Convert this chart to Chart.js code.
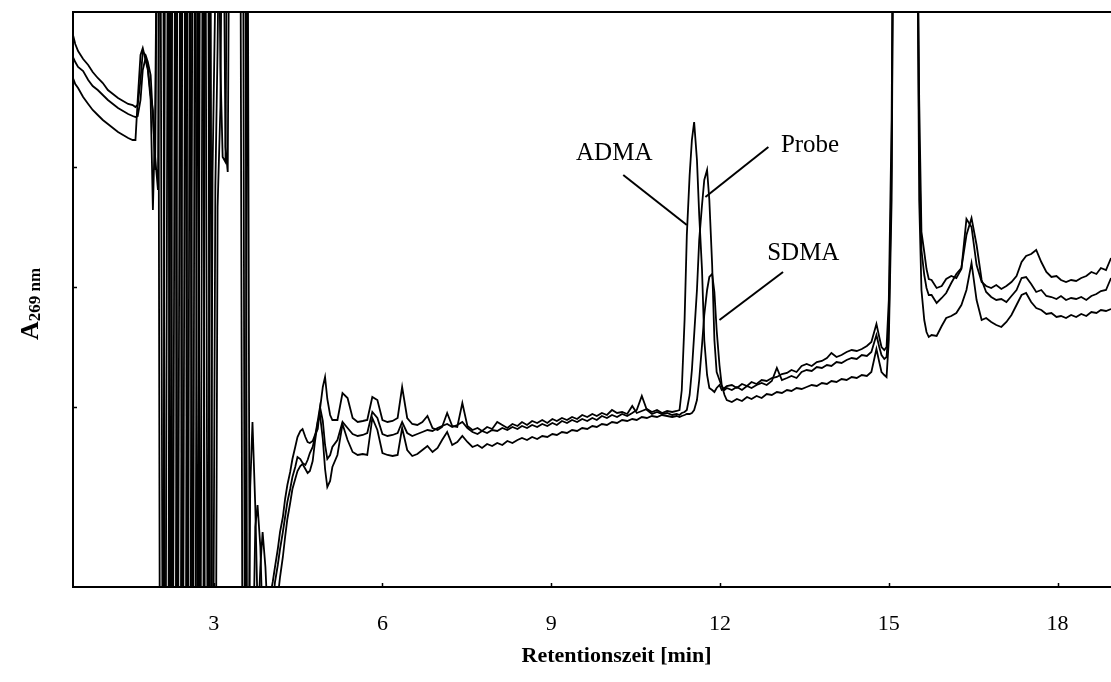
<!DOCTYPE html>
<html><head><meta charset="utf-8">
<script src="https://cdn.jsdelivr.net/npm/chart.js@4.4.1/dist/chart.umd.min.js"></script>
<style>html,body{margin:0;padding:0;background:#fff;overflow:hidden}#wrap{width:1111px;height:682px;overflow:hidden}</style>
</head><body><div id="wrap"><canvas id="c" width="1160" height="682"></canvas></div>
<script>
// Retention time [min]
const timeMin = [
 0.50,0.54,0.59,0.68,0.77,0.85,0.94,1.03,1.12,1.21,1.30,1.39,1.48,1.56,
 1.61,1.65,1.70,1.74,1.79,1.83,1.88,1.92,1.96,
 2.01,2.05,2.10,2.14,2.19,2.23,2.27,2.32,2.36,2.41,2.45,2.50,2.54,2.58,2.63,2.67,2.72,2.76,2.81,2.85,2.90,2.94,2.98,3.03,3.07,3.12,3.16,3.21,3.25,3.29,3.34,3.38,3.43,3.47,3.52,3.56,3.60,3.65,
 3.69,3.74,3.78,3.83,3.87,3.92,3.96,4.00,4.05,4.09,4.14,4.18,4.23,4.27,4.31,4.36,4.40,4.45,4.49,4.54,4.58,4.63,4.67,4.71,4.76,4.80,4.85,4.89,4.94,4.98,5.02,5.07,5.11,
 5.20,5.29,5.38,5.47,5.56,5.65,5.73,5.82,5.91,6.00,6.09,6.18,6.27,6.35,6.44,6.53,6.62,6.71,6.80,6.89,6.98,7.06,7.15,7.24,7.33,7.42,7.51,7.60,7.69,7.77,7.86,7.95,8.04,8.13,8.22,8.31,8.40,8.48,8.57,8.66,8.75,8.84,8.93,9.02,9.10,9.19,9.28,9.37,9.46,9.55,9.64,9.73,9.81,9.90,9.99,10.08,10.17,10.26,10.35,10.44,10.52,10.61,10.70,10.79,10.88,10.97,11.06,11.15,11.23,
 11.28,11.32,11.37,11.41,11.46,11.50,11.54,11.59,11.63,11.68,11.72,11.77,11.81,11.86,11.90,11.94,11.99,12.03,12.08,
 12.12,12.21,12.30,12.39,12.48,12.56,12.65,12.74,12.83,12.92,13.01,13.10,13.19,13.27,13.36,13.45,13.54,13.63,13.72,13.81,13.90,13.98,14.07,14.16,14.25,14.34,14.43,14.52,14.61,14.69,14.78,14.83,14.87,14.92,14.96,
 15.00,15.05,15.09,15.14,15.18,15.23,15.27,15.31,15.36,15.40,15.45,15.49,15.54,15.58,15.63,15.67,15.71,
 15.76,15.85,15.94,16.02,16.11,16.20,16.29,16.38,16.47,16.56,16.65,16.73,16.82,16.91,17.00,17.09,17.18,17.27,17.36,17.44,17.53,17.62,17.71,17.80,17.89,17.98,18.06,18.15,18.24,18.33,18.42,18.51,18.60,18.69,18.77,18.86,18.95
];
// Absorbance at 269 nm (arbitrary units)
const absADMA = [
 552,543,536,528,522,515,509,504,497,493,489,486,483,482,
 480,482,507,535,532,525,512,470,430,
 397,800,800,-250,-250,800,-250,-250,800,800,-250,800,-250,-250,800,800,-250,800,800,-250,-250,-250,414,600,800,520,430,425,800,800,800,800,800,800,800,-250,-250,100,
 165,80,-20,-60,-80,-60,-30,-10,5,20,38,55,70,88,102,115,128,140,150,156,158,150,145,144,146,152,158,178,200,210,188,172,167,
 167,194,189,169,165,166,167,190,187,167,165,166,169,200,169,163,162,165,171,159,157,160,174,161,160,184,161,157,159,156,160,158,165,162,159,163,161,165,162,166,164,167,164,168,166,169,167,170,168,172,170,173,171,174,172,177,174,175,173,181,174,176,178,175,177,174,176,175,176,
 177,197,267,352,412,447,465,427,372,317,247,212,199,197,195,199,202,197,199,
 201,202,199,203,201,205,203,207,206,209,210,213,214,217,215,221,223,221,225,226,229,234,230,232,235,237,236,238,241,245,263,250,240,237,240,
 287,467,800,800,800,800,800,800,800,800,800,800,487,355,335,318,308,
 307,299,301,308,311,309,318,368,360,322,305,301,299,302,298,301,305,311,325,331,333,337,325,315,310,311,307,305,307,306,309,311,315,313,319,317,329
];
const absProbe = [
 530,525,520,516,507,501,497,492,487,483,479,476,473,471,
 470,471,487,517,529,519,492,477,417,
 800,800,-250,-250,800,800,-250,800,-250,-250,800,800,-250,800,-250,-250,800,-250,-250,800,800,-250,-250,400,540,800,800,440,415,800,800,800,800,800,800,800,-250,-250,
 -100,60,82,40,-40,-70,-60,-40,-20,5,22,38,55,70,85,98,110,120,130,128,124,122,127,134,140,150,166,180,166,142,128,132,140,
 147,165,159,153,151,152,154,175,169,153,151,152,154,165,154,151,153,155,157,156,159,161,163,160,162,165,159,155,153,156,154,157,156,159,157,160,158,161,159,162,160,163,161,164,162,166,164,167,165,168,166,169,167,171,169,172,170,173,171,174,177,191,177,173,175,173,174,172,173,
 172,174,175,177,192,217,252,297,347,382,407,417,387,322,247,215,207,201,197,
 199,197,200,197,201,199,202,204,202,206,219,207,209,211,209,215,217,216,220,219,222,221,225,224,227,229,228,232,231,235,252,240,232,228,230,
 262,420,800,800,800,800,800,800,800,800,800,800,437,337,312,299,292,
 292,284,289,294,304,313,319,352,369,342,307,295,290,287,288,285,291,297,309,310,303,295,297,291,290,288,291,287,289,288,290,287,291,293,296,297,309
];
const absSDMA = [
 509,503,499,490,483,477,472,467,463,459,455,452,449,447,
 447,487,532,539,527,517,487,377,467,
 800,-250,-250,800,800,-250,800,800,-250,800,-250,-250,800,800,-250,800,800,-250,800,800,-250,800,-250,-250,380,480,800,800,800,800,800,800,800,800,-250,-250,800,-250,
 -250,-150,-50,20,55,20,-30,-60,-50,-30,-10,10,30,50,68,84,98,108,116,121,123,118,114,116,126,145,165,172,148,118,100,106,120,
 132,163,147,135,132,133,132,169,157,134,132,131,132,159,137,131,133,137,141,135,139,147,155,142,145,151,145,140,142,139,143,141,144,142,146,144,147,149,147,150,148,151,150,153,152,155,154,157,156,159,158,161,160,163,162,165,164,167,166,168,167,170,169,171,170,172,171,170,171,
 170,171,172,173,173,174,177,187,207,242,272,297,310,313,295,257,222,202,192,
 187,185,188,186,190,188,191,189,193,192,195,194,197,196,199,198,200,202,201,204,203,206,205,208,207,210,209,212,211,215,238,225,215,212,210,
 247,387,800,800,800,800,800,800,800,800,800,800,387,297,267,255,250,
 252,251,261,269,271,274,282,297,324,287,267,269,265,262,260,265,272,282,292,294,285,279,277,273,274,270,271,269,272,270,273,271,275,274,277,276,278
];
const seriesNames = ['ADMA','Probe','SDMA'];
const xTickValues = [3,6,9,12,15,18];
const yTickValues = [180,300,420];

// callout labels: text anchor [t, A] and leader line [t1, A1, t2, A2]
const callouts = [
 {text:'ADMA',  at:[10.12,434], line:[10.28,412,11.41,362]},
 {text:'Probe', at:[13.60,442], line:[12.86,440,11.74,390]},
 {text:'SDMA',  at:[13.48,334], line:[13.12,315,11.99,267]}
];

const SERIF = "'Liberation Serif','Times New Roman',serif";
const toPoints = ys => timeMin.map((t,i)=>({x:t,y:ys[i]}));

const decor = {
 id:'decor',
 afterDraw(chart){
  const {ctx, chartArea:a, scales:{x, y}} = chart;
  ctx.save();
  ctx.strokeStyle='#000'; ctx.fillStyle='#000'; ctx.lineWidth=1.5;
  xTickValues.forEach(v=>{const px=Math.round(x.getPixelForValue(v))+0.5; ctx.beginPath(); ctx.moveTo(px,a.bottom); ctx.lineTo(px,a.bottom-4); ctx.stroke();});
  yTickValues.forEach(v=>{const py=Math.round(y.getPixelForValue(v))+0.5; ctx.beginPath(); ctx.moveTo(a.left,py); ctx.lineTo(a.left+4,py); ctx.stroke();});
  ctx.lineWidth=2;
  callouts.forEach(c=>{
   ctx.beginPath();
   ctx.moveTo(x.getPixelForValue(c.line[0]), y.getPixelForValue(c.line[1]));
   ctx.lineTo(x.getPixelForValue(c.line[2]), y.getPixelForValue(c.line[3]));
   ctx.stroke();
   ctx.font = "25px "+SERIF; ctx.textAlign='center'; ctx.textBaseline='middle';
   ctx.fillText(c.text, x.getPixelForValue(c.at[0]), y.getPixelForValue(c.at[1]));
  });
  // y-axis title with subscript
  ctx.translate(38, 340); ctx.rotate(-Math.PI/2);
  ctx.textAlign='left'; ctx.textBaseline='alphabetic';
  ctx.font = "bold 26px "+SERIF; ctx.fillText('A',0,0);
  const w = ctx.measureText('A').width;
  ctx.font = "bold 17px "+SERIF; ctx.fillText('269 nm', w, 2);
  ctx.restore();
 }
};

const ds = [absADMA, absProbe, absSDMA].map((arr,i)=>({
 label: seriesNames[i], data: toPoints(arr),
 borderColor:'#000', borderWidth:1.8, pointRadius:0, tension:0, fill:false
}));

new Chart(document.getElementById('c').getContext('2d'), {
 type:'line',
 data:{datasets:ds},
 options:{
  responsive:false, animation:false,
  layout:{padding:0},
  plugins:{legend:{display:false}, tooltip:{enabled:false}},
  scales:{
   x:{type:'linear', position:'bottom', min:0.5, max:19.82,
      afterBuildTicks:s=>{s.ticks = xTickValues.map(v=>({value:v}));},
      ticks:{font:{family:SERIF,size:22}, color:'#000', padding:16, maxRotation:0, autoSkip:false},
      grid:{display:false}, border:{display:true,color:'#000',width:2},
      title:{display:true, text:'Retentionszeit [min]', color:'#000', font:{family:SERIF,size:22,weight:'bold'}, padding:{top:0,bottom:12}},
      afterFit:s=>{s.height=95;}},
   xTop:{type:'linear', position:'top', min:0.5, max:19.82, ticks:{display:false}, grid:{display:false},
      border:{display:true,color:'#000',width:2}, afterFit:s=>{s.height=12;}},
   y:{type:'linear', position:'left', min:0, max:575, ticks:{display:false}, grid:{display:false},
      border:{display:true,color:'#000',width:2}, afterFit:s=>{s.width=73;}}
  }
 },
 plugins:[decor]
});
</script>
</body></html>
